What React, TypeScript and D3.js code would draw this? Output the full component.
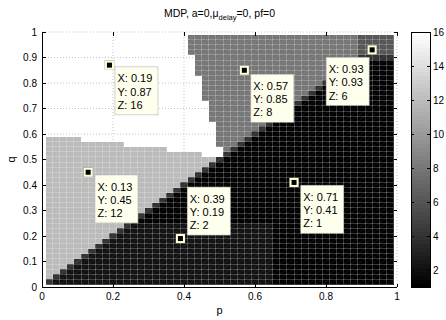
import React from 'react';
import * as d3 from 'd3';

const FONT = '"Liberation Sans", Arial, Helvetica, sans-serif';

// pcolor-style grid: vertices at 0.01..0.99 (step 0.02), 49 x 49 faces,
// each face coloured by its lower-left vertex
const gridStart = 0.01;
const gridStep = 0.02;

// value codes used in the rows below
const codeValues: Record<string, number> = { W: 16, L: 12, G: 8, D: 6, E: 4, B: 2, K: 1 };

// run-length rows, top row (q = 0.97) first, bottom row (q = 0.01) last
const rows = [
  'W20 G24 D5',
  'W20 G24 D5',
  'W20 G24 D5',
  'W20 G24 D5',
  'W21 G23 E5',
  'W21 G22 E1 K5',
  'W21 G21 E1 K6',
  'W21 G20 E1 K7',
  'W22 G18 E1 K8',
  'W22 G17 E1 K9',
  'W22 G16 E1 K10',
  'W22 G15 E1 K11',
  'W22 G14 E1 K12',
  'W23 G12 E1 K13',
  'W23 G11 E1 K14',
  'W23 G10 E1 K15',
  'W23 G9 E1 K16',
  'W24 G7 E1 K17',
  'W24 G6 E1 K18',
  'W24 G5 E1 K19',
  'L5 W19 G4 E1 K20',
  'L11 W13 G3 E1 K21',
  'L17 W8 G1 E1 K22',
  'L22 W3 E1 K23',
  'L24 E1 K24',
  'L23 E1 K25',
  'L22 E1 K26',
  'L21 E1 K27',
  'L20 E1 K28',
  'L19 E1 K29',
  'L18 E1 K30',
  'L17 E1 K31',
  'L16 E1 K32',
  'L15 E1 K33',
  'L14 E1 K34',
  'L13 E1 K35',
  'L12 E1 K36',
  'L11 E1 B20 K17',
  'L10 E1 B21 K17',
  'L9 E1 B22 K17',
  'L8 E1 B23 K17',
  'L7 E1 B24 K17',
  'L6 E1 B25 K17',
  'L5 E1 B26 K17',
  'L4 E1 B27 K17',
  'L3 E1 B28 K17',
  'L2 E1 B29 K17',
  'L1 E1 B30 K17',
  'E1 B31 K17',
];

// data tips
const tipX = [0.19, 0.13, 0.39, 0.71, 0.57, 0.93];
const tipY = [0.87, 0.45, 0.19, 0.41, 0.85, 0.93];
const tipZ = [16, 12, 2, 1, 8, 6];
// where each tip box sits relative to its marker
const tipBoxOffset = [[5.5, 1.7], [6.8, 2.7], [6.8, -51.5], [6.7, 2.8], [6.5, 4], [-46, 7.5]];

const xTicks = [0, 0.2, 0.4, 0.6, 0.8, 1];
const yTicks = [0, 0.1, 0.2, 0.3, 0.4, 0.5, 0.6, 0.7, 0.8, 0.9, 1];
const cbTicks = [2, 4, 6, 8, 10, 12, 14, 16];
const cMin = 1;
const cMax = 16;

function grayColor(v: number) {
  const level = Math.max(0, Math.min(63, Math.floor(((v - cMin) / (cMax - cMin)) * 64)));
  const g = Math.round((level / 63) * 255);
  return `rgb(${g},${g},${g})`;
}

export default function App() {
  const x = d3.scaleLinear().domain([0, 1]).range([42, 397]);
  const y = d3.scaleLinear().domain([0, 1]).range([287, 32]);
  const cb = d3.scaleLinear().domain([cMin, cMax]).range([287, 32]);

  const matrix = rows.map(r =>
    r.split(' ').flatMap(tok => Array(+tok.slice(1)).fill(codeValues[tok[0]]))
  );
  const nRows = matrix.length;
  const nCols = matrix[0].length;

  const cells: any[] = [];
  let diag = '';
  matrix.forEach((row, i) => {
    const k = nRows - 1 - i;
    const q0 = gridStart + k * gridStep;
    const q1 = q0 + gridStep;
    row.forEach((v: number, j: number) => {
      const p0 = gridStart + j * gridStep;
      const p1 = p0 + gridStep;
      cells.push(
        <rect key={`c${i}-${j}`} x={x(p0)} y={y(q1)} width={x(p1) - x(p0) + 0.4}
          height={y(q0) - y(q1) + 0.4} fill={grayColor(v)} fillOpacity={v === cMax ? 0 : 1} />
      );
      if (v !== cMax) diag += `M${x(p0)},${y(q0)}L${x(p1)},${y(q1)}`;
    });
  });

  const meshX = d3.range(nCols + 1).map(m => gridStart + m * gridStep);
  const meshY = d3.range(nRows + 1).map(m => gridStart + m * gridStep);
  const pMax = gridStart + nCols * gridStep;
  const qMax = gridStart + nRows * gridStep;

  const cbLevels = d3.range(64);
  const cbStep = (cMax - cMin) / 64;

  return (
    <svg width={446} height={320} style={{ position: 'absolute', left: 0, top: 0, background: '#fff' }}
      fontFamily={FONT}>
      {/* title */}
      <text x={219.5} y={17} textAnchor="middle" fontSize={10.5}>
        MDP, a=0,μ<tspan fontSize={7.5} dy={3}>delay</tspan><tspan dy={-3}>=0, pf=0</tspan>
      </text>

      {/* dotted grid */}
      <g stroke="#b4b4b4" strokeWidth={0.8} strokeDasharray="1 2">
        {xTicks.filter(t => t > 0).map(t => (
          <line key={`gx${t}`} x1={x(t)} x2={x(t)} y1={y(0)} y2={y(1)} />
        ))}
        {yTicks.filter(t => t > 0).map(t => (
          <line key={`gy${t}`} x1={x(0)} x2={x(1)} y1={y(t)} y2={y(t)} />
        ))}
      </g>

      {/* heat map */}
      <g shapeRendering="crispEdges">{cells}</g>
      <path d={diag} stroke="#fff" strokeOpacity={0.13} strokeWidth={0.6} fill="none" />
      <g stroke="#fff" strokeOpacity={0.22} strokeWidth={1} shapeRendering="crispEdges">
        {meshX.map((p, m) => (
          <line key={`mx${m}`} x1={x(p)} x2={x(p)} y1={y(gridStart)} y2={y(qMax)} />
        ))}
        {meshY.map((q, m) => (
          <line key={`my${m}`} x1={x(gridStart)} x2={x(pMax)} y1={y(q)} y2={y(q)} />
        ))}
      </g>

      {/* axes */}
      <g stroke="#000" strokeWidth={1} shapeRendering="crispEdges">
        <line x1={x(0)} x2={x(0)} y1={y(0)} y2={y(1)} />
        <line x1={x(0)} x2={x(1)} y1={y(0)} y2={y(0)} />
        {yTicks.map(t => (
          <g key={`yt${t}`}>
            <line x1={x(0)} x2={x(0) + 3.5} y1={y(t)} y2={y(t)} />
            <line x1={x(1)} x2={x(1) - 3.5} y1={y(t)} y2={y(t)} />
          </g>
        ))}
        {xTicks.map(t => (
          <g key={`xt${t}`}>
            <line x1={x(t)} x2={x(t)} y1={y(0)} y2={y(0) - 3.5} />
            <line x1={x(t)} x2={x(t)} y1={y(1)} y2={y(1) + 3.5} />
          </g>
        ))}
      </g>
      <g fontSize={10} fill="#000">
        {yTicks.map(t => (
          <text key={`yl${t}`} x={x(0) - 5} y={y(t)} dy="0.35em" textAnchor="end">{d3.format('~g')(t)}</text>
        ))}
        {xTicks.map(t => (
          <text key={`xl${t}`} x={x(t)} y={y(0) + 13} textAnchor="middle">{d3.format('~g')(t)}</text>
        ))}
      </g>
      <text x={219.5} y={314} textAnchor="middle" fontSize={11}>p</text>
      <text transform={`translate(15,${y(0.5)}) rotate(-90)`} textAnchor="middle" fontSize={11}>q</text>

      {/* data tips */}
      {tipX.map((tx, i) => {
        const mx = x(tx);
        const my = y(tipY[i]);
        const bx = mx + tipBoxOffset[i][0];
        const by = my + tipBoxOffset[i][1];
        return (
          <g key={`tip${i}`}>
            <rect x={bx} y={by} width={43} height={48} fill="#ffffee" stroke="#b4b4b4" strokeWidth={0.6} />
            <g fontSize={11} fill="#000">
              <text x={bx + 2.5} y={by + 15.6}>X: {tx}</text>
              <text x={bx + 2.5} y={by + 28.9}>Y: {tipY[i]}</text>
              <text x={bx + 2.5} y={by + 42.2}>Z: {tipZ[i]}</text>
            </g>
            <rect x={mx - 4.5} y={my - 4.5} width={9} height={9} fill="none" stroke="#777" strokeWidth={0.5} />
            <rect x={mx - 3.5} y={my - 3.5} width={7} height={7} fill="#000" stroke="#ffffd8" strokeWidth={2} />
          </g>
        );
      })}

      {/* colorbar */}
      <g shapeRendering="crispEdges">
        {cbLevels.map(l => {
          const v0 = cMin + l * cbStep;
          const g = Math.round((l / 63) * 255);
          return (
            <rect key={`cb${l}`} x={411} y={cb(v0 + cbStep)} width={19} height={cb(v0) - cb(v0 + cbStep) + 0.5}
              fill={`rgb(${g},${g},${g})`} />
          );
        })}
        <rect x={411} y={cb(cMax)} width={19} height={cb(cMin) - cb(cMax)} fill="none" stroke="#000" />
        {cbTicks.map(t => (
          <g key={`cbt${t}`} stroke="#000">
            <line x1={411} x2={414} y1={cb(t)} y2={cb(t)} />
            <line x1={430} x2={427} y1={cb(t)} y2={cb(t)} />
          </g>
        ))}
      </g>
      <g fontSize={10} fill="#000">
        {cbTicks.map(t => (
          <text key={`cbl${t}`} x={433} y={cb(t)} dy="0.35em">{t}</text>
        ))}
      </g>
    </svg>
  );
}
